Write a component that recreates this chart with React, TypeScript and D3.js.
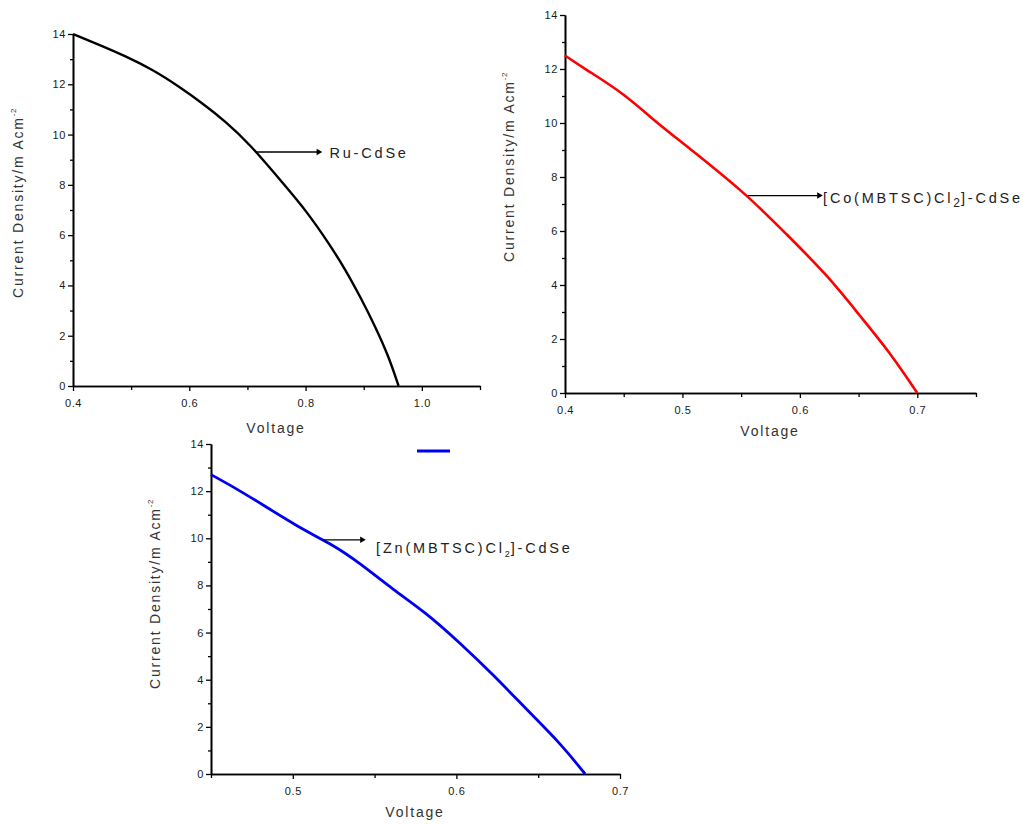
import React, { useEffect, useRef } from 'react';
import * as d3 from 'd3';

// Ru-CdSe (black)
const ruVoltage = [0.4, 0.446, 0.492, 0.538, 0.583, 0.623, 0.663, 0.703, 0.766, 0.8, 0.84, 0.869, 0.894, 0.92, 0.943, 0.96];
const ruCurrent = [14.0, 13.56, 13.1, 12.57, 11.9, 11.24, 10.51, 9.65, 7.93, 7.0, 5.68, 4.61, 3.55, 2.36, 1.17, 0];

// [Co(MBTSC)Cl2]-CdSe (red)
const coVoltage = [0.4, 0.417, 0.45, 0.477, 0.5, 0.5548, 0.5888, 0.6229, 0.6513, 0.6768, 0.7];
const coCurrent = [12.5, 12.0, 11.1, 10.05, 9.27, 7.36, 5.87, 4.39, 2.85, 1.5, 0];

// [Zn(MBTSC)Cl2]-CdSe (blue)
const znVoltage = [0.45, 0.4685, 0.5044, 0.5248, 0.5411, 0.5615, 0.5819, 0.6023, 0.6227, 0.6451, 0.6635, 0.6787];
const znCurrent = [12.7, 12.0, 10.42, 9.72, 8.94, 7.81, 6.82, 5.55, 4.2, 2.58, 1.3, 0];

const yMajorTicks = [0, 2, 4, 6, 8, 10, 12, 14];
const yMinorTicks = [1, 3, 5, 7, 9, 11, 13];

const ruXMajor = [0.4, 0.6, 0.8, 1.0];
const ruXMinor = [0.5, 0.7, 0.9, 1.1];
const coXMajor = [0.4, 0.5, 0.6, 0.7];
const coXMinor = [0.45, 0.55, 0.65, 0.75];
const znXMajor = [0.5, 0.6, 0.7];
const znXMinor = [0.45, 0.55, 0.65];

const xTitle = 'Voltage';
const yTitle = 'Current Density/m Acm';
const yTitleSup = '-2';

const FONT = 'Arial, "Liberation Sans", sans-serif';

const panels = [
  {
    voltage: ruVoltage, current: ruCurrent, color: '#000', width: 2.4,
    xDomain: [0.4, 1.1], xMajor: ruXMajor, xMinor: ruXMinor,
    left: 73, right: 480, top: 34, bottom: 386,
    note: { v: 0.7156, len: 64, dx: 9, dy: 6, sub: 11, parts: [['Ru-CdSe', null]] },
    xTitlePos: [276, 433], yTitlePos: [23, 203],
  },
  {
    voltage: coVoltage, current: coCurrent, color: '#f00', width: 2.6,
    xDomain: [0.4, 0.75], xMajor: coXMajor, xMinor: coXMinor,
    left: 565, right: 976, top: 15, bottom: 393,
    note: { v: 0.5559, len: 73, dx: 2, dy: 7, sub: 12, parts: [['[Co(MBTSC)Cl', null], ['2', 'sub'], [']-CdSe', null]] },
    xTitlePos: [770, 436], yTitlePos: [514, 167],
  },
  {
    voltage: znVoltage, current: znCurrent, color: '#0000f0', width: 2.8,
    xDomain: [0.45, 0.7], xMajor: znXMajor, xMinor: znXMinor,
    left: 211, right: 620, top: 444, bottom: 774,
    note: { v: 0.5185, len: 41, dx: 12, dy: 13, sub: 9, parts: [['[Zn(MBTSC)Cl', null], ['2', 'sub'], [']-CdSe', null]] },
    xTitlePos: [415, 817], yTitlePos: [160, 594],
  },
];

function drawPanel(svg, p) {
  const x = d3.scaleLinear().domain(p.xDomain).range([p.left, p.right]);
  const y = d3.scaleLinear().domain([0, 14]).range([p.bottom, p.top]);
  const g = svg.append('g');

  // minor ticks
  g.append('g')
    .attr('transform', 'translate(0,' + p.bottom + ')')
    .call(d3.axisBottom(x).tickValues(p.xMinor).tickSize(4).tickSizeOuter(0).tickFormat(() => ''));
  g.append('g')
    .attr('transform', 'translate(' + p.left + ',0)')
    .call(d3.axisLeft(y).tickValues(yMinorTicks).tickSize(3).tickSizeOuter(0).tickFormat(() => ''));

  // major ticks + labels
  g.append('g')
    .attr('transform', 'translate(0,' + p.bottom + ')')
    .call(d3.axisBottom(x).tickValues(p.xMajor).tickSize(5).tickSizeOuter(0).tickPadding(8).tickFormat(d3.format('.1f')));
  g.append('g')
    .attr('transform', 'translate(' + p.left + ',0)')
    .call(d3.axisLeft(y).tickValues(yMajorTicks).tickSize(5).tickSizeOuter(0).tickPadding(2).tickFormat(d3.format('d')));

  g.selectAll('.domain').attr('stroke', '#000').attr('stroke-width', 1.6);
  g.selectAll('.tick line').attr('stroke', '#000').attr('stroke-width', 1.3);
  g.selectAll('.tick text')
    .attr('font-family', FONT)
    .attr('font-size', 11)
    .attr('letter-spacing', 0.6)
    .attr('fill', '#1a1a1a');

  // curve
  const pts = p.voltage.map((v, i) => [v, p.current[i]]);
  const line = d3.line()
    .x((d) => x(d[0]))
    .y((d) => y(d[1]))
    .curve(d3.curveBasis);
  g.append('path')
    .datum(pts)
    .attr('fill', 'none')
    .attr('stroke', p.color)
    .attr('stroke-width', p.width)
    .attr('stroke-linejoin', 'round')
    .attr('d', line);

  // annotation arrow
  const jAt = d3.scaleLinear().domain(p.voltage).range(p.current)(p.note.v);
  const ax = x(p.note.v);
  const ay = y(jAt);
  g.append('line')
    .attr('x1', ax).attr('y1', ay)
    .attr('x2', ax + p.note.len).attr('y2', ay)
    .attr('stroke', '#000').attr('stroke-width', 1.3);
  g.append('path')
    .attr('d', d3.symbol().type(d3.symbolTriangle).size(18)())
    .attr('transform', 'translate(' + (ax + p.note.len - 2) + ',' + ay + ') rotate(90)')
    .attr('fill', '#000');

  const label = g.append('text')
    .attr('x', ax + p.note.len + p.note.dx)
    .attr('y', ay + p.note.dy)
    .attr('font-family', FONT)
    .attr('font-size', 14.5)
    .attr('letter-spacing', 2.8)
    .attr('fill', '#222');
  p.note.parts.forEach(([t, kind], i) => {
    const ts = label.append('tspan').text(t);
    if (kind === 'sub') ts.attr('font-size', p.note.sub).attr('dy', 4).attr('letter-spacing', 1);
    else if (i > 0) ts.attr('dy', -4);
  });

  // axis titles
  g.append('text')
    .attr('x', p.xTitlePos[0])
    .attr('y', p.xTitlePos[1])
    .attr('text-anchor', 'middle')
    .attr('font-family', FONT)
    .attr('font-size', 14)
    .attr('letter-spacing', 1.8)
    .attr('fill', '#333')
    .text(xTitle);

  const yt = g.append('text')
    .attr('transform', 'translate(' + p.yTitlePos[0] + ',' + p.yTitlePos[1] + ') rotate(-90)')
    .attr('text-anchor', 'middle')
    .attr('font-family', FONT)
    .attr('font-size', 14)
    .attr('letter-spacing', 1.8)
    .attr('fill', '#333');
  yt.append('tspan').text(yTitle);
  yt.append('tspan').attr('font-size', 8).attr('dy', -7).attr('letter-spacing', 0.5).text(yTitleSup);
}

function App() {
  const svgRef = useRef(null);

  useEffect(() => {
    const svg = d3.select(svgRef.current);
    svg.selectAll('*').remove();
    panels.forEach((p) => drawPanel(svg, p));

    // stray blue legend stub
    svg.append('line')
      .attr('x1', 417).attr('y1', 451)
      .attr('x2', 450).attr('y2', 451)
      .attr('stroke', '#0000f0')
      .attr('stroke-width', 3);
  }, []);

  return (
    <svg
      ref={svgRef}
      width={1031}
      height={824}
      style={{ position: 'absolute', left: 0, top: 0, background: '#fff' }}
    />
  );
}

export default App;
